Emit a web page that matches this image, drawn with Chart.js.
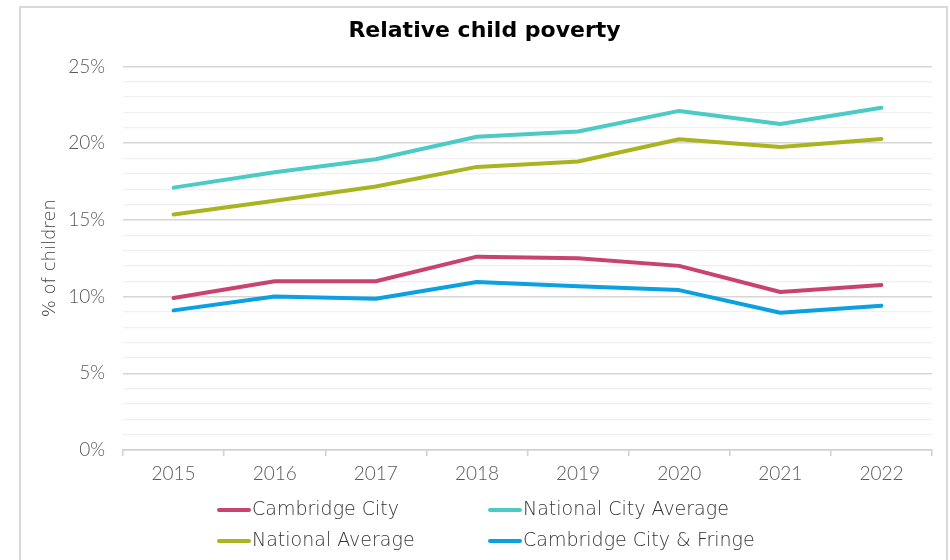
<!DOCTYPE html>
<html>
<head>
<meta charset="utf-8">
<script src="https://cdn.jsdelivr.net/npm/chart.js@4"></script>
<style>
html,body{margin:0;padding:0;background:#fff;}
#wrap{position:absolute;left:0;top:0;width:950px;height:560px;}
#box{position:absolute;left:19px;top:6px;width:925px;height:560px;border:2px solid #d9d9d9;border-bottom:none;pointer-events:none;}
canvas{position:absolute;left:0;top:0;}
</style>
</head>
<body>
<div id="wrap"><canvas id="c" width="950" height="560"></canvas><div id="box"></div></div>
<script>
const years = ['2015','2016','2017','2018','2019','2020','2021','2022'];
const cambridgeCity = [9.9, 11.0, 11.0, 12.6, 12.5, 12.0, 10.3, 10.75];
const nationalCityAverage = [17.1, 18.1, 18.95, 20.42, 20.76, 22.1, 21.25, 22.3];
const nationalAverage = [15.35, 16.25, 17.17, 18.45, 18.8, 20.25, 19.75, 20.27];
const cambridgeFringe = [9.1, 10.0, 9.86, 10.95, 10.67, 10.42, 8.94, 9.4];
const yTicks = [0, 5, 10, 15, 20, 25];

const FONT = "Lato, 'Open Sans', sans-serif";
const WIDE = "'DejaVu Sans', Lato, sans-serif";
const legendPlugin = {
  id: 'gridLegend',
  afterDraw(chart) {
    const ctx = chart.ctx;
    const ds = chart.data.datasets;
    const cols = [217, 488];
    const rows = [510, 541];
    ctx.save();
    ctx.font = "200 19px " + WIDE;
    ctx.textBaseline = 'middle';
    ctx.textAlign = 'left';
    ds.forEach((d, i) => {
      const x = cols[i % 2], y = rows[Math.floor(i / 2)];
      ctx.strokeStyle = d.borderColor;
      ctx.lineWidth = 4;
      ctx.lineCap = 'round';
      ctx.beginPath(); ctx.moveTo(x + 2, y); ctx.lineTo(x + 32, y); ctx.stroke();
      ctx.fillStyle = '#333333';
      ctx.fillText(d.label, x + 35, y);
    });
    ctx.restore();
  }
};

new Chart(document.getElementById('c'), {
  type: 'line',
  data: {
    labels: years,
    datasets: [
      {label: 'Cambridge City', data: cambridgeCity, borderColor: '#C8446F'},
      {label: 'National City Average', data: nationalCityAverage, borderColor: '#4CCAC6'},
      {label: 'National Average', data: nationalAverage, borderColor: '#A9B420'},
      {label: 'Cambridge City & Fringe', data: cambridgeFringe, borderColor: '#0BA0E2'}
    ].map(d => Object.assign(d, {borderWidth: 4, pointRadius: 0, tension: 0, fill: false, borderCapStyle: 'round', borderJoinStyle: 'round'}))
  },
  options: {
    responsive: false,
    animation: false,
    layout: {padding: {left: 37, right: 18, top: 6, bottom: 65}},
    plugins: {
      legend: {display: false},
      tooltip: {enabled: false},
      title: {
        display: true,
        text: 'Relative child poverty',
        color: '#000',
        font: {family: WIDE, size: 22, weight: 'bold'},
        padding: {top: 12, bottom: 22}
      }
    },
    scales: {
      x: {
        offset: true,
        grid: {offset: true, drawOnChartArea: false, drawTicks: true, tickLength: 6, color: '#d0d0d0', lineWidth: 1.5},
        border: {display: true, color: '#d0d0d0', width: 1.5},
        ticks: {color: '#595959', font: {family: FONT, size: 19, weight: '300'}, padding: 6, maxRotation: 0},
        afterFit(s) { s.height = 45; }
      },
      y: {
        min: 0, max: 25,
        border: {display: false},
        grid: {
          drawTicks: false,
          color: c => (yTicks.includes(c.tick.value) ? '#d6d6d6' : '#f0f0f0'),
          lineWidth: c => (yTicks.includes(c.tick.value) ? 1.5 : 1.2)
        },
        ticks: {
          stepSize: 1, autoSkip: false,
          color: '#595959', font: {family: FONT, size: 19, weight: '300'}, padding: 18,
          callback: v => (yTicks.includes(v) ? v + '%' : '')
        },
        title: {display: true, text: '% of children', color: '#404040', font: {family: WIDE, size: 18, weight: '200'}, padding: {top: 3, bottom: 0}},
        afterFit(s) { s.width = 86; }
      }
    }
  },
  plugins: [legendPlugin]
});
</script>
</body>
</html>
